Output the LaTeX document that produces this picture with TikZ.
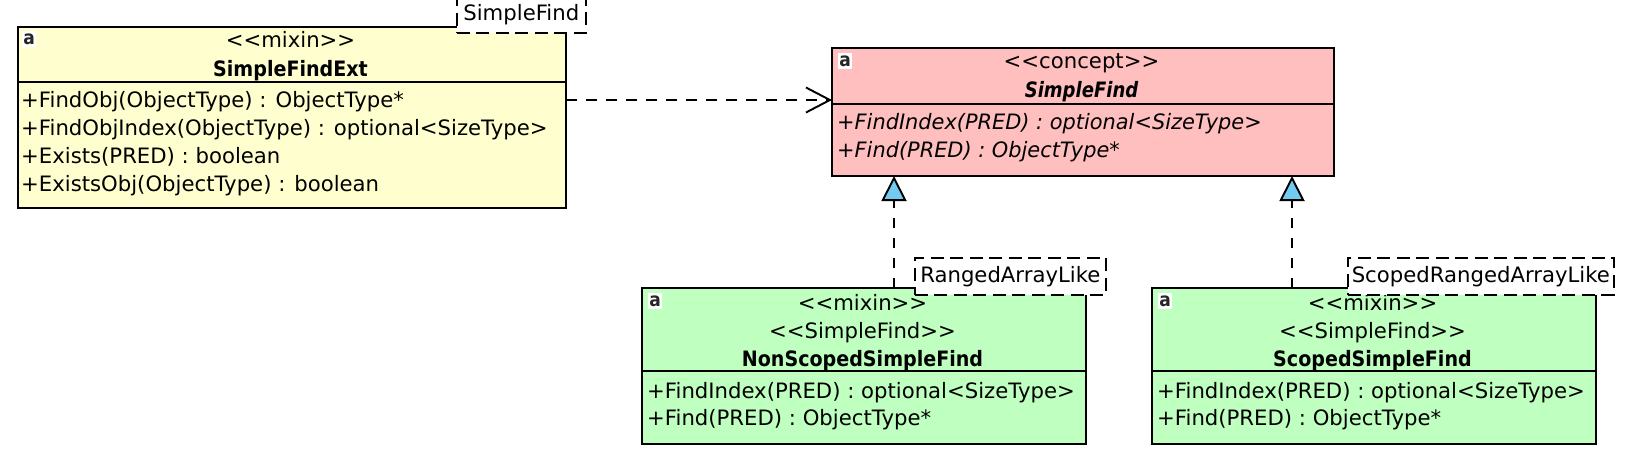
\documentclass[tikz,border=0pt]{standalone}
\usepackage{fontspec}
\setmainfont[BoldFeatures={FakeStretch=0.9},BoldItalicFeatures={FakeStretch=0.85},ItalicFeatures={FakeStretch=0.985}]{DejaVu Sans}
\usetikzlibrary{arrows.meta}
\definecolor{yel}{HTML}{FEFECE}
\definecolor{pnk}{HTML}{FFBFBF}
\definecolor{grn}{HTML}{BFFFBF}
\definecolor{blu}{HTML}{74CBF2}
\tikzset{
  x=1pt,y=-1pt,
  box/.style={draw=black,line width=1.9pt,anchor=north west,inner sep=0pt,outer sep=0pt},
  sepline/.style={draw=black,line width=1.8pt},
  title/.style={anchor=base,inner sep=0pt,xshift=-1.5pt,font=\fontsize{21.2}{24}\selectfont},
  member/.style={anchor=base west,inner sep=0pt,font=\fontsize{21.2}{24}\selectfont},
  tag/.style={draw=black,fill=white,dash pattern=on 13pt off 6.5pt,line width=1.6pt,anchor=north west,inner sep=0pt,font=\fontsize{21.2}{24}\selectfont},
  icon/.style={fill=white,anchor=north west,inner sep=0pt,minimum width=14pt,minimum height=16pt,text=black!85,font=\bfseries\fontsize{19}{19}\selectfont},
  dep/.style={draw=black,line width=1.7pt,dash pattern=on 10.5pt off 9.5pt},
  openhead/.style={-{Straight Barb[length=24pt,width=25pt,line width=1.9pt]}},
  realize/.style={-{Triangle[length=25pt,width=25pt,fill=blu,line width=1.9pt]}},
}
\begin{document}
\begin{tikzpicture}
\useasboundingbox (0,0) rectangle (1634,466);
% boxes
\node[box,fill=yel,minimum width=548pt,minimum height=181pt] (ext) at (18,27) {};
\node[box,fill=pnk,minimum width=502pt,minimum height=128pt] (sf) at (832,48) {};
\node[box,fill=grn,minimum width=444pt,minimum height=156pt] (ns) at (642,288) {};
\node[box,fill=grn,minimum width=444pt,minimum height=156pt] (sc) at (1152,288) {};
% separators
\draw[sepline] (ext.west |- 0,82) -- (ext.east |- 0,82);
\draw[sepline] (sf.west |- 0,104) -- (sf.east |- 0,104);
\draw[sepline] (ns.west |- 0,371) -- (ns.east |- 0,371);
\draw[sepline] (sc.west |- 0,371) -- (sc.east |- 0,371);
% icons
\node[icon] (i1) at (22,31) {a};
\node[icon] (i2) at (838,53) {a};
\node[icon] (i3) at (648,293) {a};
\node[icon] (i4) at (1158,293) {a};
% yellow text
\node[title] (e1) at (ext.north |- 0,47) {<{}<mixin>{}>};
\node[title] (e2) at (ext.north |- 0,76) {\bfseries SimpleFindExt};
\node[member] (e3) at (21,107) {+FindObj(ObjectType) : ObjectType*};
\node[member] (e4) at (21,135) {+FindObjIndex(ObjectType) : optional<SizeType>};
\node[member] (e5) at (21,163) {+Exists(PRED) : boolean};
\node[member] (e6) at (21,191) {+ExistsObj(ObjectType) : boolean};
% pink text
\node[title] (s1) at (sf.north |- 0,68) {<{}<concept>{}>};
\node[title] (s2) at (sf.north |- 0,97) {\bfseries\itshape SimpleFind};
\node[member] (s3) at (837,129) {\itshape +FindIndex(PRED) : optional<SizeType>};
\node[member] (s4) at (837,157) {\itshape +Find(PRED) : ObjectType*};
% green 1 text
\node[title] (n1) at (ns.north |- 0,310) {<{}<mixin>{}>};
\node[title] (n2) at (ns.north |- 0,338) {<{}<SimpleFind>{}>};
\node[title] (n3) at (ns.north |- 0,366) {\bfseries NonScopedSimpleFind};
\node[member] (n4) at (647,398) {+FindIndex(PRED) : optional<SizeType>};
\node[member] (n5) at (647,425) {+Find(PRED) : ObjectType*};
% green 2 text
\node[title] (c1) at (sc.north |- 0,310) {<{}<mixin>{}>};
\node[title] (c2) at (sc.north |- 0,338) {<{}<SimpleFind>{}>};
\node[title] (c3) at (sc.north |- 0,366) {\bfseries ScopedSimpleFind};
\node[member] (c4) at (1157,398) {+FindIndex(PRED) : optional<SizeType>};
\node[member] (c5) at (1157,425) {+Find(PRED) : ObjectType*};
% template tags
\node[tag,minimum width=129pt,minimum height=37pt] (t1) at (456,-5) {SimpleFind};
\node[tag,minimum width=191pt,minimum height=37pt] (t2) at (914,257) {RangedArrayLike};
\node[tag,minimum width=266pt,minimum height=37pt] (t3) at (1347,257) {ScopedRangedArrayLike};
% connectors
\draw[dep,openhead] (ext.east |- 0,100) -- (sf.west |- 0,100);
\draw[dep,realize] (894,288) -- (894,176);
\draw[dep,realize] (1292,288) -- (1292,176);
\end{tikzpicture}
\end{document}
